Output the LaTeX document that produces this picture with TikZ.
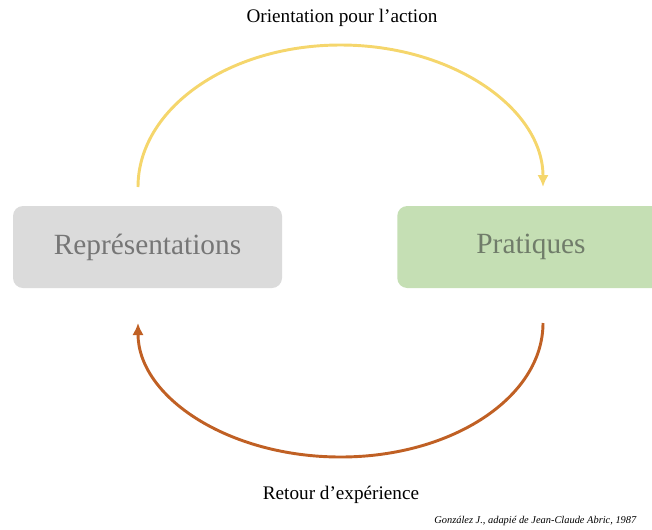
\documentclass[tikz,border=0pt]{standalone}
\usepackage{fontspec}
\setmainfont{Liberation Serif}
\usepackage{tikz}
\usetikzlibrary{positioning, arrows, arrows.meta}

\definecolor{boxgray}{RGB}{219,219,219}
\definecolor{boxgreen}{RGB}{197,223,180}
\definecolor{txtgray}{RGB}{118,118,118}
\definecolor{txtgreen}{RGB}{112,124,106}
\definecolor{arcyellow}{RGB}{245,214,108}
\definecolor{arcbrown}{RGB}{192,96,36}

\tikzset{
  pole/.style={rounded corners=7.5pt, minimum height=61.5pt, inner sep=0pt, font=\fontsize{22}{26}\selectfont},
  loop/.style={line width=2.2pt, -{Latex[length=9pt,width=8.5pt]}},
  lbl/.style={font=\fontsize{14.4}{17}\selectfont}
}

\begin{document}
\begin{tikzpicture}[x=0.75pt,y=0.75pt,yscale=-1,xscale=1]
\useasboundingbox (0,0) rectangle (652,529);
\clip (0,0) rectangle (652,529);

% Boxes
\node (repr) [pole, fill=boxgray, text=txtgray, minimum width=201.75pt] at (147.5,247) {Représentations};
\node (prat) [pole, fill=boxgreen, text=txtgreen, minimum width=201pt, anchor=west] at (397,247) {};
\node (pratlbl) [pole, text=txtgreen] at (531,247) {Pratiques};

% Arc ends
\coordinate (ostart) at (138,187);
\coordinate (rstart) at (543,323);

% Top arc
\draw [loop, arcyellow] (ostart) arc [start angle=180, end angle=360, x radius=202.5, y radius=142];
% Bottom arc
\draw [loop, arcbrown] (rstart) arc [start angle=0, end angle=180, x radius=202.5, y radius=134];

% Text Node
\node (orient) [lbl] at (342,18) {Orientation pour l’action};
% Text Node
\node (retour) [lbl] at (341,495) {Retour d’expérience};
% Text Node
\node (source) [font=\fontsize{7.8}{9}\selectfont\itshape, anchor=east] at (641,521) {González J., adapié de Jean-Claude Abric, 1987};

\end{tikzpicture}
\end{document}
